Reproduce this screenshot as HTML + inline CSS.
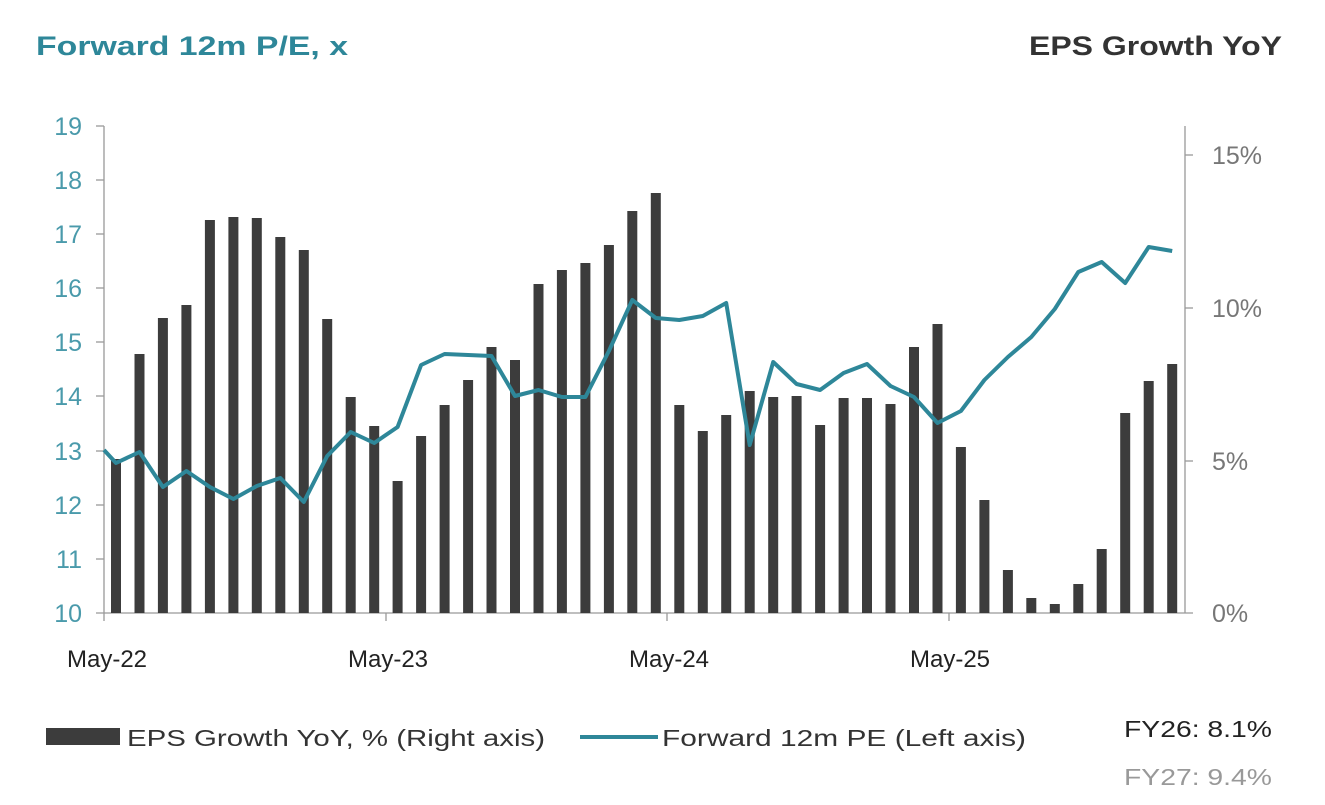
<!DOCTYPE html>
<html><head><meta charset="utf-8"><style>
html,body{margin:0;padding:0;background:#fff;}
svg{display:block;}
text{font-family:"Liberation Sans","DejaVu Sans",sans-serif;}
</style></head><body>
<svg width="1325" height="805" viewBox="0 0 1325 805" xmlns="http://www.w3.org/2000/svg">
<text x="36" y="55" font-size="27" font-weight="bold" fill="#2e8799" textLength="312" lengthAdjust="spacingAndGlyphs">Forward 12m P/E, x</text>
<text x="1282" y="55" font-size="27" font-weight="bold" fill="#333" text-anchor="end" textLength="253" lengthAdjust="spacingAndGlyphs">EPS Growth YoY</text>
<g stroke="#999" stroke-width="1.3" fill="none">
<line x1="104" y1="126" x2="104" y2="613"/>
<line x1="1185" y1="126" x2="1185" y2="613"/>
<line x1="96" y1="613" x2="1193" y2="613"/>
<line x1="96" y1="126" x2="104" y2="126"/><line x1="96" y1="180" x2="104" y2="180"/><line x1="96" y1="234" x2="104" y2="234"/><line x1="96" y1="288" x2="104" y2="288"/><line x1="96" y1="342" x2="104" y2="342"/><line x1="96" y1="396" x2="104" y2="396"/><line x1="96" y1="451" x2="104" y2="451"/><line x1="96" y1="505" x2="104" y2="505"/><line x1="96" y1="559" x2="104" y2="559"/>
<line x1="1185" y1="155" x2="1193" y2="155"/><line x1="1185" y1="308" x2="1193" y2="308"/><line x1="1185" y1="461" x2="1193" y2="461"/>
<line x1="104" y1="613" x2="104" y2="621"/><line x1="386" y1="613" x2="386" y2="621"/><line x1="667" y1="613" x2="667" y2="621"/><line x1="949" y1="613" x2="949" y2="621"/>
</g>
<g font-size="25" fill="#4a9aab" text-anchor="end">
<text x="82" y="135">19</text><text x="82" y="189">18</text><text x="82" y="243">17</text><text x="82" y="297">16</text><text x="82" y="351">15</text><text x="82" y="405">14</text><text x="82" y="460">13</text><text x="82" y="514">12</text><text x="82" y="568">11</text><text x="82" y="622">10</text>
</g>
<g font-size="25" fill="#777">
<text x="1212" y="164">15%</text><text x="1212" y="317">10%</text><text x="1212" y="470">5%</text><text x="1212" y="622">0%</text>
</g>
<g font-size="24" fill="#222" text-anchor="middle">
<text x="107" y="667">May-22</text><text x="388" y="667">May-23</text><text x="669" y="667">May-24</text><text x="950" y="667">May-25</text>
</g>
<g fill="#3c3c3c">
<rect x="111" y="459" width="10" height="154"/>
<rect x="134.5" y="354" width="10" height="259"/>
<rect x="157.9" y="318" width="10" height="295"/>
<rect x="181.4" y="305" width="10" height="308"/>
<rect x="204.9" y="220" width="10" height="393"/>
<rect x="228.4" y="217" width="10" height="396"/>
<rect x="251.8" y="218" width="10" height="395"/>
<rect x="275.3" y="237" width="10" height="376"/>
<rect x="298.8" y="250" width="10" height="363"/>
<rect x="322.2" y="319" width="10" height="294"/>
<rect x="345.7" y="397" width="10" height="216"/>
<rect x="369.2" y="426" width="10" height="187"/>
<rect x="392.6" y="481" width="10" height="132"/>
<rect x="416.1" y="436" width="10" height="177"/>
<rect x="439.6" y="405" width="10" height="208"/>
<rect x="463.1" y="380" width="10" height="233"/>
<rect x="486.5" y="347" width="10" height="266"/>
<rect x="510" y="360" width="10" height="253"/>
<rect x="533.5" y="284" width="10" height="329"/>
<rect x="556.9" y="270" width="10" height="343"/>
<rect x="580.4" y="263" width="10" height="350"/>
<rect x="603.9" y="245" width="10" height="368"/>
<rect x="627.3" y="211" width="10" height="402"/>
<rect x="650.8" y="193" width="10" height="420"/>
<rect x="674.3" y="405" width="10" height="208"/>
<rect x="697.8" y="431" width="10" height="182"/>
<rect x="721.2" y="415" width="10" height="198"/>
<rect x="744.7" y="391" width="10" height="222"/>
<rect x="768.2" y="397" width="10" height="216"/>
<rect x="791.6" y="396" width="10" height="217"/>
<rect x="815.1" y="425" width="10" height="188"/>
<rect x="838.6" y="398" width="10" height="215"/>
<rect x="862" y="398" width="10" height="215"/>
<rect x="885.5" y="404" width="10" height="209"/>
<rect x="909" y="347" width="10" height="266"/>
<rect x="932.5" y="324" width="10" height="289"/>
<rect x="955.9" y="447" width="10" height="166"/>
<rect x="979.4" y="500" width="10" height="113"/>
<rect x="1002.9" y="570" width="10" height="43"/>
<rect x="1026.3" y="598" width="10" height="15"/>
<rect x="1049.8" y="604" width="10" height="9"/>
<rect x="1073.3" y="584" width="10" height="29"/>
<rect x="1096.7" y="549" width="10" height="64"/>
<rect x="1120.2" y="413" width="10" height="200"/>
<rect x="1143.7" y="381" width="10" height="232"/>
<rect x="1167.2" y="364" width="10" height="249"/>
</g>
<polyline fill="none" stroke="#2e8799" stroke-width="4" stroke-linejoin="round" points="104,450 116,463 139.5,452 162.9,487 186.4,471 209.9,487 233.4,499 256.8,486 280.3,478 303.8,502 327.2,456 350.7,432 374.2,443 397.6,427 421.1,365 444.6,354 468.1,355 491.5,356 515,396 538.5,390 561.9,397 585.4,397 608.9,351 632.3,300 655.8,318 679.3,320 702.8,316 726.2,303 749.7,445 773.2,362 796.6,384 820.1,390 843.6,373 867,364 890.5,386 914,397 937.5,423 960.9,411 984.4,380 1007.9,357 1031.3,337 1054.8,309 1078.3,272 1101.7,262 1125.2,283 1148.7,247 1172.2,251"/>
<rect x="46" y="728" width="74" height="17" fill="#3c3c3c"/>
<text x="127" y="746" font-size="23" fill="#333" textLength="418" lengthAdjust="spacingAndGlyphs">EPS Growth YoY, % (Right axis)</text>
<line x1="580" y1="737" x2="658" y2="737" stroke="#2e8799" stroke-width="4"/>
<text x="662" y="746" font-size="23" fill="#333" textLength="364" lengthAdjust="spacingAndGlyphs">Forward 12m PE (Left axis)</text>
<text x="1272" y="737" font-size="23" fill="#222" text-anchor="end" textLength="148" lengthAdjust="spacingAndGlyphs">FY26: 8.1%</text>
<text x="1272" y="785" font-size="23" fill="#999" text-anchor="end" textLength="148" lengthAdjust="spacingAndGlyphs">FY27: 9.4%</text>
</svg>
</body></html>
